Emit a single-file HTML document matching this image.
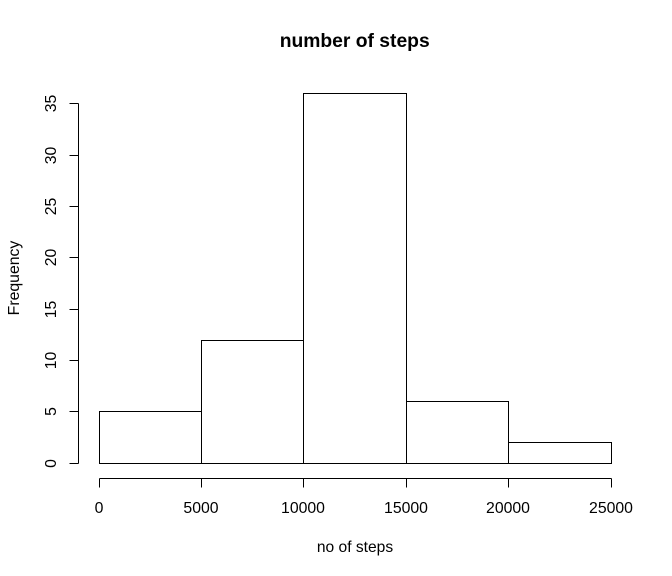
<!DOCTYPE html>
<html lang="en">
<head>
<meta charset="utf-8">
<title>number of steps</title>
<style>
html,body{margin:0;padding:0;background:#fff;}
svg{display:block;}
text{font-family:"Liberation Sans",Arial,sans-serif;fill:#000;}
</style>
</head>
<body>
<svg id="chart" xmlns="http://www.w3.org/2000/svg" width="672" height="576" viewBox="0 0 672 576"></svg>
<script>
const binEdges = [0, 5000, 10000, 15000, 20000, 25000];
const frequencies = [5, 12, 36, 6, 2];
const xTickLabels = [0, 5000, 10000, 15000, 20000, 25000];
const yTickLabels = [0, 5, 10, 15, 20, 25, 30, 35];
const chartTitle = 'number of steps';
const xAxisTitle = 'no of steps';
const yAxisTitle = 'Frequency';

const NS = 'http://www.w3.org/2000/svg';
const svg = document.getElementById('chart');
const snap = p => Math.floor(p) + 0.5;
const xScale = v => 99 + v * 0.02048;
const yScale = v => 463.3 - v * 10.27;
const xAxisY = 478.5;
const yAxisX = 78.5;
const tickLen = 9;

function make(tag, attrs, parent) {
  const el = document.createElementNS(NS, tag);
  for (const k in attrs) el.setAttribute(k, attrs[k]);
  (parent || svg).appendChild(el);
  return el;
}
function line(x1, y1, x2, y2, parent) {
  return make('line', {x1, y1, x2, y2, stroke: '#000', 'stroke-width': 1, 'shape-rendering': 'crispEdges'}, parent);
}

const bars = make('g', {});


frequencies.forEach((f, i) => {
  const x0 = snap(xScale(binEdges[i]));
  const x1 = snap(xScale(binEdges[i + 1]));
  const y = snap(yScale(f));
  const r = make('rect', {x: x0, y: y, width: x1 - x0, height: snap(yScale(0)) - y, fill: '#fff', stroke: '#000', 'stroke-width': 1, 'shape-rendering': 'crispEdges'}, bars);
  
  
});

const xAxis = make('g', {});


const xLine = line(snap(xScale(xTickLabels[0])), xAxisY, snap(xScale(xTickLabels[xTickLabels.length - 1])), xAxisY, xAxis);


xTickLabels.forEach(v => {
  const x = snap(xScale(v));
  const t = line(x, xAxisY, x, xAxisY + tickLen, xAxis);
  
  
  const l = make('text', {x: x - 0.5, y: 513, 'text-anchor': 'middle', 'font-size': 15.8}, xAxis);
  
  
  l.textContent = v;
});

const yAxis = make('g', {});


const yLine = line(yAxisX, snap(yScale(yTickLabels[0])), yAxisX, snap(yScale(yTickLabels[yTickLabels.length - 1])), yAxis);


yTickLabels.forEach(v => {
  const y = snap(yScale(v));
  const t = line(yAxisX - tickLen, y, yAxisX, y, yAxis);
  
  
  const l = make('text', {x: 56, y: y, transform: 'rotate(-90 56 ' + y + ')', 'text-anchor': 'middle', 'font-size': 15.8}, yAxis);
  
  
  l.textContent = v;
});

const title = make('text', {x: 354.7, y: 47, 'text-anchor': 'middle', 'font-size': 19.3, 'font-weight': 'bold'});


title.textContent = chartTitle;

const xTitle = make('text', {x: 355, y: 552, 'text-anchor': 'middle', 'font-size': 15.6});


xTitle.textContent = xAxisTitle;

const yTitle = make('text', {x: 19, y: 278, transform: 'rotate(-90 19 278)', 'text-anchor': 'middle', 'font-size': 15.8});


yTitle.textContent = yAxisTitle;
</script>
</body>
</html>
